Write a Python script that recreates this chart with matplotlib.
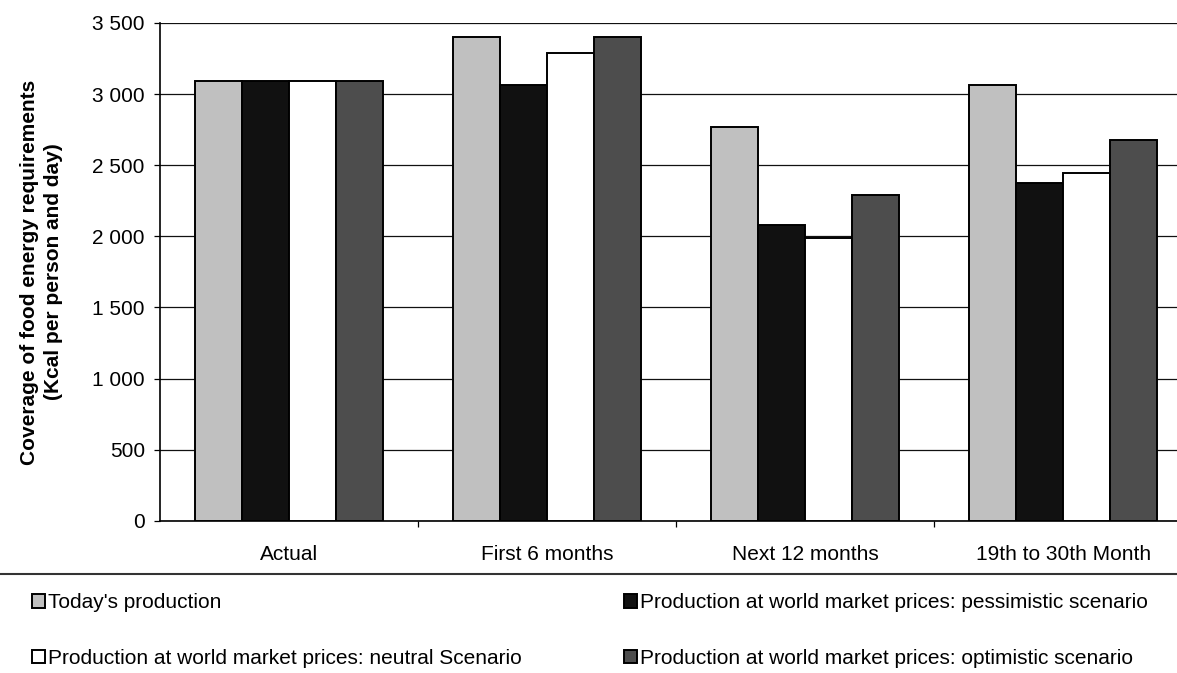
import numpy as np
import matplotlib.pyplot as plt
from matplotlib.ticker import FuncFormatter, FixedLocator
from matplotlib.lines import Line2D

plt.rcParams['font.family'] = ['Liberation Sans', 'DejaVu Sans']

periods = ['Actual', 'First 6 months', 'Next 12 months', '19th to 30th Month']
series_names = ["Today's production",
                'Production at world market prices: pessimistic scenario',
                'Production at world market prices: neutral Scenario',
                'Production at world market prices: optimistic scenario']
todays_prod = [3095, 3403, 2769, 3062]
pessimistic = [3095, 3066, 2080, 2377]
neutral = [3095, 3289, 1989, 2443]
optimistic = [3095, 3403, 2291, 2675]
bar_colors = ['#c0c0c0', '#111111', '#ffffff', '#4d4d4d']

FS = 15

fig = plt.figure(figsize=(11.77, 6.73), dpi=100)
# plot area runs a little past the right edge of the figure
ax = fig.add_axes([0.136, 0.226, 0.877, 0.74])

x = np.arange(len(periods))
width = 0.182
handles = []
for i, (vals, col) in enumerate(zip([todays_prod, pessimistic, neutral, optimistic], bar_colors)):
    b = ax.bar(x + (i - 1.5) * width, vals, width, color=col, edgecolor='black',
               linewidth=1.4, zorder=3, label=series_names[i])
    handles.append(b)

ax.set_xlim(-0.5, 3.5)
ax.set_ylim(0, 3500)
ax.set_yticks(np.arange(0, 3501, 500))
ax.yaxis.set_major_formatter(FuncFormatter(lambda v, p: '{:,.0f}'.format(v).replace(',', ' ')))
ax.grid(axis='y', color='#111111', linewidth=0.9, zorder=0)
ax.set_axisbelow(True)

ax.set_xticks(x)
ax.set_xticklabels(periods)
ax.xaxis.set_minor_locator(FixedLocator([0.5, 1.5, 2.5]))
ax.tick_params(axis='x', which='major', length=0, pad=17, labelsize=FS)
ax.tick_params(axis='x', which='minor', length=4.5, width=0.9, direction='out')
ax.tick_params(axis='y', length=4, width=0.9, labelsize=FS, pad=7)

for s in ['top', 'right']:
    ax.spines[s].set_visible(False)
ax.spines['left'].set_linewidth(1.2)
ax.spines['bottom'].set_linewidth(1.2)

ax.set_ylabel('Coverage of food energy requirements\n(Kcal per person and day)',
              fontsize=15, fontweight='bold', labelpad=21, linespacing=1.35)

# separator above the legend area
fig.add_artist(Line2D([0, 1], [1 - 574 / 673, 1 - 574 / 673], transform=fig.transFigure,
                      color='#333333', linewidth=1.5))

order = [0, 2, 1, 3]
fig.legend([handles[k] for k in order], [series_names[k] for k in order],
           ncol=2, loc='upper left', bbox_to_anchor=(0.020, 0.131), frameon=False,
           fontsize=FS, handlelength=0.62, handleheight=0.62, handletextpad=0.15,
           labelspacing=1.75, columnspacing=4.9, borderaxespad=0)

fig.savefig('out.png', dpi=100)
